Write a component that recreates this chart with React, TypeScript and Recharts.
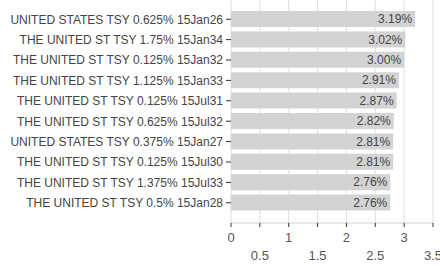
import { BarChart, Bar, XAxis, YAxis, CartesianGrid, LabelList } from "recharts";

const BONDS = [
  "UNITED STATES TSY 0.625% 15Jan26",
  "THE UNITED ST TSY 1.75% 15Jan34",
  "THE UNITED ST TSY 0.125% 15Jan32",
  "THE UNITED ST TSY 1.125% 15Jan33",
  "THE UNITED ST TSY 0.125% 15Jul31",
  "THE UNITED ST TSY 0.625% 15Jul32",
  "UNITED STATES TSY 0.375% 15Jan27",
  "THE UNITED ST TSY 0.125% 15Jul30",
  "THE UNITED ST TSY 1.375% 15Jul33",
  "THE UNITED ST TSY 0.5% 15Jan28",
];

const WEIGHTS = [3.19, 3.02, 3.0, 2.91, 2.87, 2.82, 2.81, 2.81, 2.76, 2.76];

const X_TICKS = [0, 0.5, 1, 1.5, 2, 2.5, 3, 3.5];

const data = BONDS.map((name, i) => ({ name, value: WEIGHTS[i] }));

const FONT = '"Liberation Sans", Arial, sans-serif';

// alternate tick labels on two rows, like the original
// eslint-disable-next-line @typescript-eslint/no-explicit-any
function StaggeredTick(props: any) {
  const { x, y, payload, index } = props;
  const lower = index % 2 === 1;
  return (
    <text
      x={x}
      y={y}
      dy={lower ? 31 : 12.5}
      textAnchor="middle"
      fill="#555"
      fontSize={13}
      fontFamily={FONT}
    >
      {payload.value}
    </text>
  );
}

// single-line category labels (default tick wraps long names)
// eslint-disable-next-line @typescript-eslint/no-explicit-any
function NameTick(props: any) {
  const { x, y, payload } = props;
  return (
    <text
      x={x}
      y={y}
      dy="0.36em"
      textAnchor="end"
      fill="#444"
      fontSize={12}
      fontFamily={FONT}
    >
      {payload.value}
    </text>
  );
}

export default function App() {
  return (
    <div style={{ position: "absolute", left: 0, top: 0, width: 440, height: 266, background: "#fff" }}>
      <BarChart
        width={440}
        height={266}
        data={data}
        layout="vertical"
        margin={{ top: 0, right: 7, bottom: 0, left: 0 }}
      >
        <CartesianGrid horizontal={false} stroke="#dedede" />
        <XAxis
          type="number"
          domain={[0, 3.5]}
          ticks={X_TICKS}
          interval={0}
          height={43}
          tickSize={4}
          tickMargin={2}
          axisLine={{ stroke: "#d0d0d0" }}
          tickLine={{ stroke: "#333" }}
          tick={<StaggeredTick />}
        />
        <YAxis
          type="category"
          dataKey="name"
          width={231}
          axisLine={false}
          tickSize={5}
          tickMargin={3}
          tickLine={{ stroke: "#333" }}
          padding={{ top: 9, bottom: 10 }}
          interval={0}
          tick={<NameTick />}
        />
        <Bar dataKey="value" fill="#d3d3d3" barSize={16} isAnimationActive={false}>
          <LabelList
            dataKey="value"
            position="insideRight"
            offset={3}
            fill="#444"
            fontSize={12}
            fontFamily={FONT}
            formatter={(v: number) => v.toFixed(2) + "%"}
          />
        </Bar>
      </BarChart>
    </div>
  );
}
